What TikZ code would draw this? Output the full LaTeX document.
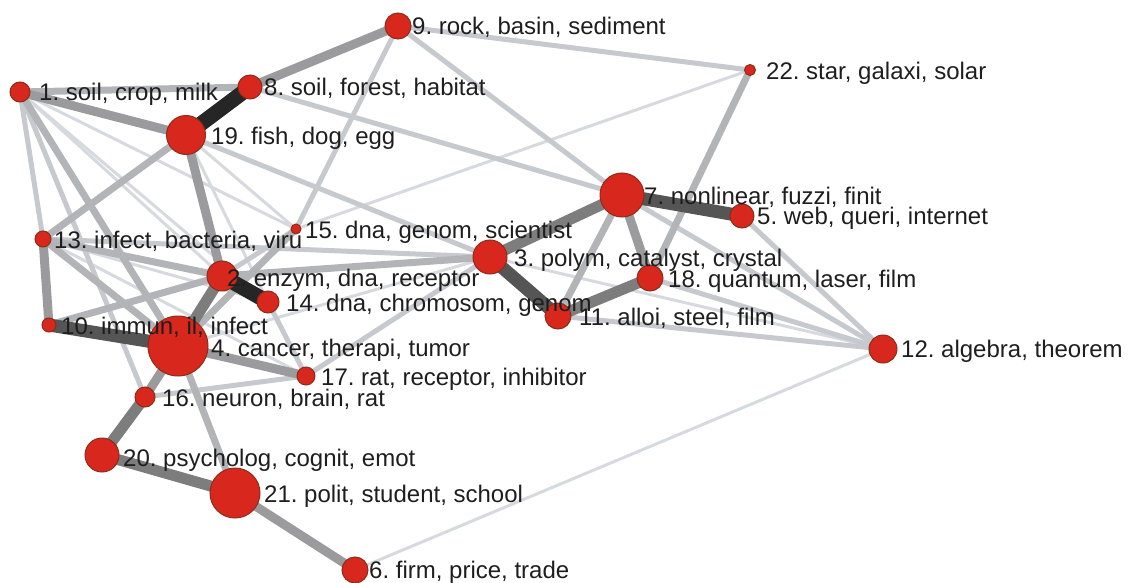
\documentclass[tikz,border=0pt]{standalone}
\usepackage{fontspec}
\setmainfont{Liberation Sans}
\frenchspacing
\pgfdeclarelayer{bg}
\pgfsetlayers{bg,main}
\definecolor{nodered}{RGB}{216,40,30}
\definecolor{noderim}{RGB}{140,45,25}
\definecolor{txt}{RGB}{30,30,30}
\definecolor{cA}{RGB}{214,218,222}
\definecolor{cB}{RGB}{198,201,205}
\definecolor{cC}{RGB}{178,180,183}
\definecolor{cD}{RGB}{155,155,157}
\definecolor{cE}{RGB}{125,125,125}
\definecolor{cF}{RGB}{85,85,85}
\definecolor{cG}{RGB}{38,38,38}
\tikzset{
  v/.style={circle,fill=nodered,draw=noderim,line width=1pt,inner sep=0pt},
  lab/.style={anchor=base west,inner sep=0pt,text=txt,font=\fontsize{24}{28}\selectfont},
  eA/.style={draw=cA,line width=3pt},
  eB/.style={draw=cB,line width=5pt},
  eC/.style={draw=cC,line width=7pt},
  eD/.style={draw=cD,line width=9pt},
  eE/.style={draw=cE,line width=11pt},
  eF/.style={draw=cF,line width=13pt},
  eG/.style={draw=cG,line width=15pt}
}
\begin{document}
\begin{tikzpicture}[x=1pt,y=-1pt]
\useasboundingbox (0,0) rectangle (1130,583);
% nodes
\node[v,minimum size=20pt] (n1) at (20,92) {};
\node[v,minimum size=24pt] (n8) at (250,87) {};
\node[v,minimum size=26pt] (n9) at (398,26) {};
\node[v,minimum size=11pt] (n22) at (750,70) {};
\node[v,minimum size=39pt] (n19) at (186,135) {};
\node[v,minimum size=44pt] (n7) at (622,195) {};
\node[v,minimum size=24pt] (n5) at (742,216) {};
\node[v,minimum size=16pt] (n13) at (43,239) {};
\node[v,minimum size=10pt] (n15) at (296,229) {};
\node[v,minimum size=30pt] (n2) at (222,276) {};
\node[v,minimum size=34pt] (n3) at (490,257) {};
\node[v,minimum size=26pt] (n18) at (650,278) {};
\node[v,minimum size=22pt] (n14) at (268,302) {};
\node[v,minimum size=26pt] (n11) at (558,316) {};
\node[v,minimum size=14pt] (n10) at (49,325) {};
\node[v,minimum size=60pt] (n4) at (178,346) {};
\node[v,minimum size=18pt] (n17) at (306,376) {};
\node[v,minimum size=28pt] (n12) at (883,349) {};
\node[v,minimum size=20pt] (n16) at (145,397) {};
\node[v,minimum size=34pt] (n20) at (102,455) {};
\node[v,minimum size=50pt] (n21) at (235,493) {};
\node[v,minimum size=26pt] (n6) at (355,570) {};
% labels
\node[lab] (l1) at (39,100.6) {1. soil, crop, milk};
\node[lab] (l8) at (264,95.6) {8. soil, forest, habitat};
\node[lab] (l9) at (412,34.6) {9. rock, basin, sediment};
\node[lab] (l22) at (766,79.6) {22. star, galaxi, solar};
\node[lab] (l19) at (211,144.6) {19. fish, dog, egg};
\node[lab] (l7) at (644,204.6) {7. nonlinear, fuzzi, finit};
\node[lab] (l5) at (757,224.6) {5. web, queri, internet};
\node[lab] (l13) at (54,248.6) {13. infect, bacteria, viru};
\node[lab] (l15) at (305,238.6) {15. dna, genom, scientist};
\node[lab] (l2) at (227,286.6) {2. enzym, dna, receptor};
\node[lab] (l3) at (514,266.6) {3. polym, catalyst, crystal};
\node[lab] (l18) at (668,287.6) {18. quantum, laser, film};
\node[lab] (l14) at (286,311.6) {14. dna, chromosom, genom};
\node[lab] (l11) at (579,325.6) {11. alloi, steel, film};
\node[lab] (l10) at (61,334.6) {10. immun, il, infect};
\node[lab] (l4) at (211,356.6) {4. cancer, therapi, tumor};
\node[lab] (l17) at (321,385.6) {17. rat, receptor, inhibitor};
\node[lab] (l12) at (901,357.6) {12. algebra, theorem};
\node[lab] (l16) at (162,406.6) {16. neuron, brain, rat};
\node[lab] (l20) at (123,466.6) {20. psycholog, cognit, emot};
\node[lab] (l21) at (264,502.6) {21. polit, student, school};
\node[lab] (l6) at (369,578.6) {6. firm, price, trade};
% edges
\begin{pgfonlayer}{bg}
\foreach \a/\b in {6/12,15/22,1/2,1/14,1/15,3/12,13/14,19/14,19/15,10/17,13/17,4/3}
  \draw[eA] (n\a.center) -- (n\b.center);
\foreach \a/\b in {9/7,8/7,19/3,15/9,12/5,12/7,12/18,12/11,9/22,17/16,14/17,1/13,1/16,13/3,2/15,17/3}
  \draw[eB] (n\a.center) -- (n\b.center);
\foreach \a/\b in {1/4,2/3,13/2,15/4,19/13,1/8,4/21,22/18,7/11,13/4,10/2}
  \draw[eC] (n\a.center) -- (n\b.center);
\foreach \a/\b in {7/18,4/17,4/16,21/6,13/10,9/8,1/19,19/2}
  \draw[eD] (n\a.center) -- (n\b.center);
\foreach \a/\b in {7/3,11/18,4/2,16/20,20/21}
  \draw[eE] (n\a.center) -- (n\b.center);
\foreach \a/\b in {4/10,3/11,7/5}
  \draw[eF] (n\a.center) -- (n\b.center);
\foreach \a/\b in {8/19,2/14}
  \draw[eG] (n\a.center) -- (n\b.center);
\end{pgfonlayer}
\end{tikzpicture}
\end{document}
